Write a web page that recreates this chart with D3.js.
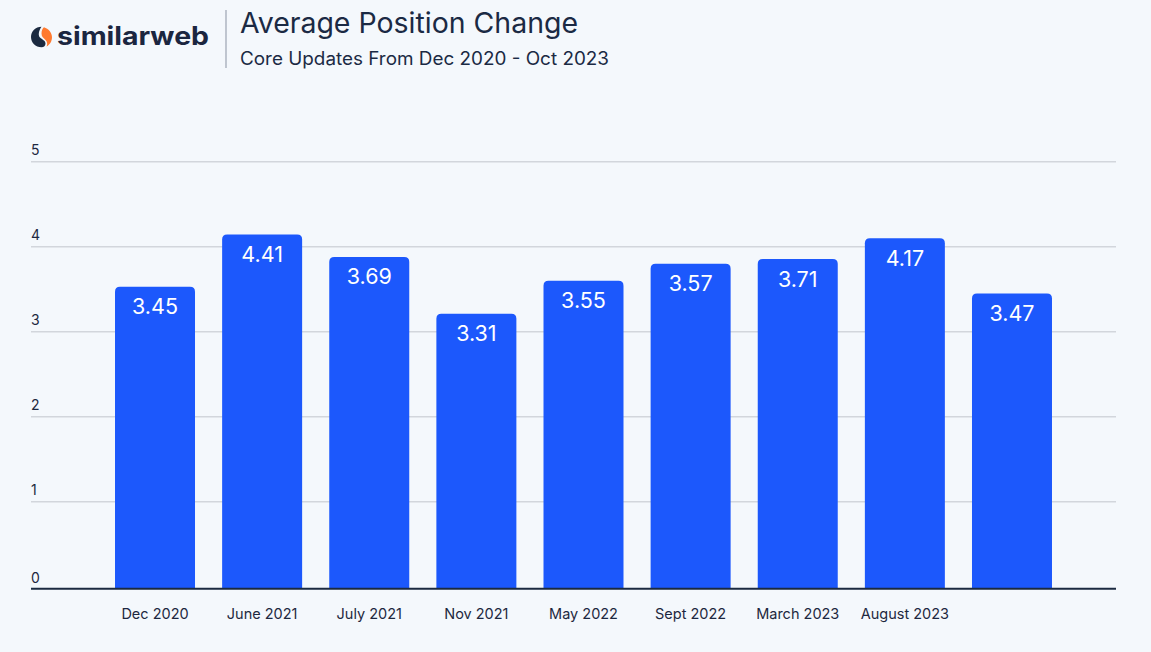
<!DOCTYPE html>
<html>
<head>
<meta charset="utf-8">
<script src="https://cdn.jsdelivr.net/npm/d3@7"></script>
<style>
  html, body { margin: 0; padding: 0; background: #f4f8fc; }
  svg { display: block; }
</style>
</head>
<body>
<svg id="chart" width="1151" height="652"></svg>
<script>
// ---- data ----
const categories = ["Dec 2020", "June 2021", "July 2021", "Nov 2021", "May 2022", "Sept 2022", "March 2023", "August 2023", ""];
const barHeights = [3.53, 4.145, 3.88, 3.21, 3.60, 3.80, 3.855, 4.10, 3.45];
const valueLabels = ["3.45", "4.41", "3.69", "3.31", "3.55", "3.57", "3.71", "4.17", "3.47"];
const yTicks = [0, 1, 2, 3, 4, 5];
const title = "Average Position Change";
const subtitle = "Core Updates From Dec 2020 - Oct 2023";

const W = 1151, H = 652;
const font = "Inter, 'DejaVu Sans', sans-serif";
const ink = "#1d2840";
const barColor = "#1c58fc";

const svg = d3.select("#chart");
svg.append("rect").attr("width", W).attr("height", H).attr("fill", "#f4f8fc");

const y = d3.scaleLinear().domain([0, 5]).range([586.7, 161.7]);
const x = d3.scaleBand().domain(d3.range(categories.length))
  .range([101.45, 1065.55]).paddingInner(0.2532).paddingOuter(0.1266);

// gridlines
svg.append("g").selectAll("line").data(yTicks.filter(d => d > 0)).join("line")
  .attr("x1", 31).attr("x2", 1116)
  .attr("y1", d => y(d)).attr("y2", d => y(d))
  .attr("stroke", "#d2d6dc").attr("stroke-width", 1.5);

// y tick labels
svg.append("g").selectAll("text").data(yTicks).join("text")
  .attr("x", 31).attr("y", d => y(d) - (d === 0 ? 4 : 7))
  .attr("font-family", font).attr("font-size", 14).attr("fill", ink)
  .text(d => d);

// bars with rounded top corners
const r = 5;
function barPath(i) {
  const x0 = x(i), w = x.bandwidth(), yt = y(barHeights[i]), yb = y(0) + 2;
  return `M${x0},${yb} L${x0},${yt + r} Q${x0},${yt} ${x0 + r},${yt} L${x0 + w - r},${yt} Q${x0 + w},${yt} ${x0 + w},${yt + r} L${x0 + w},${yb} Z`;
}
svg.append("g").selectAll("path").data(d3.range(categories.length)).join("path")
  .attr("d", i => barPath(i)).attr("fill", barColor);

// baseline
svg.append("line").attr("x1", 31).attr("x2", 1116)
  .attr("y1", y(0) + 2).attr("y2", y(0) + 2)
  .attr("stroke", "#1b2a40").attr("stroke-width", 2);

// value labels
svg.append("g").selectAll("text").data(d3.range(categories.length)).join("text")
  .attr("x", i => x(i) + x.bandwidth() / 2)
  .attr("y", i => y(barHeights[i]) + 27.5)
  .attr("text-anchor", "middle")
  .attr("font-family", font).attr("font-size", 21.5).attr("fill", "#ffffff")
  .text(i => valueLabels[i]);

// category labels
svg.append("g").selectAll("text").data(d3.range(categories.length)).join("text")
  .attr("x", i => x(i) + x.bandwidth() / 2)
  .attr("y", 619)
  .attr("text-anchor", "middle")
  .attr("font-family", font).attr("font-size", 14.5).attr("fill", ink)
  .text(i => categories[i]);

// header: logo
const logo = svg.append("g");
logo.append("path")
  .attr("d", "M41.5,26.7 C35.5,26.7 31,31.2 31,37 C31,42.8 35.5,47.3 41.5,47.3 C44,47.3 45.5,45.5 45.5,43.5 C45.5,40.5 42,39.5 40,37.5 C38,35.5 38.5,31 41.5,26.7 Z")
  .attr("fill", "#1b2a40");
logo.append("path")
  .attr("d", "M44,27.2 C48.5,28.6 52,32.5 52,37.2 C52,41.5 49.5,45 46.5,46.5 C47.5,44.5 47.5,42 45.5,40 C43.5,38 41.5,36.8 41.5,33.5 C41.5,30.5 42.5,28.3 44,27.2 Z")
  .attr("fill", "#ff7a2f");
logo.append("text").attr("x", 57).attr("y", 44.5)
  .attr("font-family", font).attr("font-weight", 700).attr("font-size", 25)
  .attr("fill", "#1b2640")
  .attr("textLength", 152).attr("lengthAdjust", "spacingAndGlyphs")
  .text("similarweb");

// divider
svg.append("line").attr("x1", 226).attr("x2", 226).attr("y1", 10).attr("y2", 68)
  .attr("stroke", "#8a93a3").attr("stroke-width", 1);

// title & subtitle
svg.append("text").attr("x", 240).attr("y", 33)
  .attr("font-family", font).attr("font-size", 28).attr("fill", "#1b2a44")
  .attr("textLength", 338).attr("lengthAdjust", "spacingAndGlyphs")
  .text(title);
svg.append("text").attr("x", 240).attr("y", 65)
  .attr("font-family", font).attr("font-size", 18).attr("fill", "#1b2a44")
  .attr("textLength", 369).attr("lengthAdjust", "spacingAndGlyphs")
  .text(subtitle);
</script>
</body>
</html>
